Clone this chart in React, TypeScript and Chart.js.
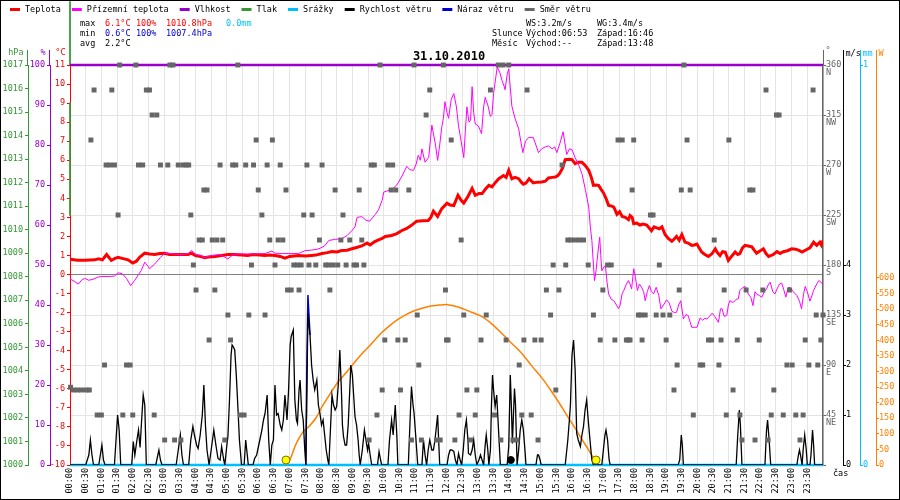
import React, { useEffect, useRef } from 'react';
import { Chart, registerables } from 'chart.js';

Chart.register(...registerables);

const FONT = '"DejaVu Sans Mono", monospace';

// ---- Temperature (°C), minutes since midnight ----
const tempT = [0, 15, 30, 47, 55, 62, 70, 79, 86, 92, 100, 111, 120, 127, 133, 143, 152, 162, 172, 181, 190, 200, 213, 226, 232, 240, 250, 257, 265, 277, 290, 302, 315, 328, 340, 350, 363, 372, 382, 392, 402, 411, 420, 437, 450, 462, 470, 482, 492, 501, 510, 520, 530, 539, 548, 558, 568, 574, 582, 590, 597, 603, 615, 625, 634, 644, 653, 663, 675, 685, 690, 695, 703, 711, 721, 727, 734, 742, 748, 753, 761, 769, 775, 782, 788, 795, 801, 807, 814, 820, 829, 834, 839, 845, 851, 858, 863, 867, 872, 878, 886, 894, 902, 909, 915, 922, 928, 933, 937, 942, 947, 955, 960, 966, 972, 979, 986, 992, 997, 1001, 1006, 1011, 1015, 1020, 1025, 1030, 1035, 1040, 1046, 1051, 1056, 1062, 1068, 1071, 1075, 1078, 1084, 1090, 1096, 1103, 1112, 1117, 1122, 1127, 1132, 1138, 1144, 1151, 1155, 1160, 1165, 1170, 1176, 1182, 1189, 1194, 1199, 1203, 1208, 1214, 1221, 1228, 1234, 1238, 1243, 1248, 1253, 1259, 1265, 1272, 1277, 1281, 1286, 1291, 1297, 1304, 1308, 1313, 1320, 1326, 1331, 1336, 1341, 1345, 1352, 1358, 1364, 1372, 1380, 1388, 1395, 1400, 1408, 1415, 1422, 1428, 1434, 1437, 1440];
const tempV = [0.8, 0.75, 0.75, 0.77, 0.82, 0.77, 1.05, 0.74, 0.85, 0.9, 0.85, 0.77, 0.6, 0.7, 0.9, 1.12, 1.08, 1.05, 1.1, 1.12, 1.05, 1.05, 1.05, 1.05, 1.12, 1.0, 0.95, 0.88, 0.92, 0.95, 1.0, 1.05, 1.05, 1.03, 1.0, 1.05, 1.03, 1.0, 1.03, 1.0, 0.95, 0.86, 0.95, 1.0, 0.97, 1.0, 1.02, 1.1, 1.15, 1.21, 1.18, 1.26, 1.28, 1.35, 1.42, 1.5, 1.65, 1.55, 1.72, 1.82, 1.9, 2.0, 2.05, 2.15, 2.3, 2.42, 2.58, 2.8, 2.82, 2.84, 3.0, 3.33, 3.05, 3.46, 3.75, 3.65, 3.62, 4.16, 3.9, 3.75, 4.1, 4.52, 4.16, 4.25, 4.25, 4.5, 4.68, 4.6, 4.85, 5.03, 5.2, 5.1, 5.47, 5.03, 5.1, 5.03, 4.85, 4.74, 4.8, 5.03, 4.81, 4.85, 4.86, 4.9, 5.07, 5.1, 5.12, 5.2, 5.33, 5.6, 6.03, 6.05, 6.03, 5.82, 5.9, 5.9, 5.7, 5.47, 5.1, 4.68, 4.7, 4.68, 4.5, 4.3, 4.0, 3.63, 3.6, 3.54, 3.16, 3.3, 3.05, 3.0, 2.88, 3.1, 3.0, 2.67, 2.7, 2.6, 2.65, 2.6, 2.3, 2.5, 2.45, 2.4, 2.5, 2.1, 1.9, 1.75, 1.85, 2.0, 1.8, 2.1, 1.7, 1.65, 1.53, 1.55, 1.6, 1.4, 1.18, 1.05, 0.95, 1.1, 1.35, 1.15, 1.0, 1.2, 1.18, 0.74, 0.95, 1.18, 1.05, 1.1, 1.4, 1.53, 1.5, 1.45, 1.3, 1.12, 1.25, 1.35, 1.1, 0.95, 1.0, 1.05, 1.2, 1.1, 1.2, 1.25, 1.35, 1.33, 1.25, 1.18, 1.3, 1.4, 1.7, 1.53, 1.7, 1.55, 1.79];

// ---- Ground temperature (°C) ----
const groundT = [0, 8, 16, 22, 28, 36, 44, 52, 60, 75, 85, 92, 100, 108, 116, 124, 131, 136, 143, 150, 152, 162, 173, 181, 195, 210, 226, 232, 241, 250, 257, 270, 287, 302, 310, 320, 340, 354, 367, 373, 386, 392, 405, 437, 450, 462, 476, 487, 495, 508, 520, 530, 539, 545, 549, 558, 566, 573, 584, 590, 597, 600, 608, 615, 625, 634, 644, 650, 657, 662, 666, 670, 673, 679, 686, 692, 699, 703, 707, 711, 714, 717, 721, 724, 729, 734, 739, 743, 748, 753, 756, 759, 763, 766, 769, 772, 775, 781, 787, 791, 794, 799, 804, 807, 810, 814, 817, 822, 826, 830, 832, 836, 839, 842, 845, 851, 858, 862, 866, 871, 877, 882, 886, 891, 896, 902, 909, 915, 922, 927, 931, 937, 943, 947, 950, 955, 960, 966, 972, 979, 986, 992, 995, 998, 1001, 1003, 1006, 1008, 1011, 1013, 1015, 1017, 1021, 1024, 1027, 1030, 1035, 1040, 1045, 1049, 1052, 1056, 1059, 1064, 1068, 1071, 1074, 1078, 1081, 1085, 1089, 1093, 1097, 1100, 1104, 1108, 1112, 1116, 1121, 1126, 1130, 1135, 1141, 1146, 1151, 1156, 1160, 1164, 1168, 1173, 1178, 1182, 1186, 1189, 1194, 1199, 1205, 1210, 1214, 1218, 1223, 1228, 1233, 1240, 1244, 1247, 1251, 1256, 1259, 1262, 1266, 1269, 1274, 1278, 1281, 1286, 1291, 1294, 1297, 1302, 1306, 1310, 1313, 1318, 1323, 1328, 1332, 1336, 1339, 1344, 1348, 1353, 1357, 1361, 1365, 1369, 1373, 1377, 1383, 1390, 1395, 1399, 1403, 1406, 1410, 1415, 1419, 1422, 1427, 1432, 1436, 1440];
const groundV = [-0.23, -0.35, -0.5, -0.3, -0.2, -0.3, -0.25, -0.15, -0.1, -0.1, -0.08, 0.09, 0.04, -0.2, -0.58, -0.3, 0.0, 0.2, 0.65, 0.4, 0.3, 0.55, 0.9, 1.12, 1.1, 1.05, 1.1, 1.26, 1.05, 1.0, 0.88, 1.0, 1.05, 0.82, 1.0, 1.08, 1.08, 1.08, 1.1, 1.1, 1.23, 1.12, 1.1, 1.1, 1.26, 1.28, 1.35, 1.5, 1.79, 1.85, 1.88, 2.05, 2.3, 2.5, 3.0, 3.04, 2.85, 2.8, 3.16, 3.4, 3.9, 4.33, 4.4, 4.46, 4.7, 5.12, 5.68, 5.5, 5.47, 5.8, 6.26, 6.0, 6.6, 5.9, 6.15, 7.84, 6.8, 5.99, 6.8, 7.75, 8.2, 9.07, 8.5, 8.2, 9.2, 9.5, 8.8, 7.8, 7.0, 6.14, 7.5, 8.8, 8.0, 8.1, 9.86, 8.5, 7.9, 7.8, 7.4, 8.8, 9.3, 8.9, 8.3, 8.4, 9.5, 10.3, 10.9, 10.6, 10.2, 9.9, 9.7, 10.5, 10.8, 9.8, 8.84, 8.2, 7.65, 7.0, 6.4, 7.0, 7.19, 7.2, 7.19, 6.8, 6.4, 6.6, 6.7, 6.75, 6.6, 6.7, 6.4, 6.9, 7.49, 6.8, 6.3, 6.6, 6.55, 6.14, 5.8, 5.3, 4.4, 3.54, 2.5, 1.79, 0.5, -0.32, 0.2, 0.74, 1.5, 1.96, 1.0, 0.2, 0.4, 0.42, -0.4, -1.02, -1.3, -1.37, -1.6, -1.8, -1.6, -1.0, -0.84, -0.5, -0.32, -0.5, -0.75, 0.3, -0.1, -0.84, -0.5, -0.67, -0.9, -1.37, -0.9, -0.58, -0.9, -1.02, -0.67, -1.1, -1.8, -1.6, -1.33, -1.5, -1.93, -2.0, -1.98, -1.6, -1.37, -2.33, -2.1, -2.15, -2.5, -2.77, -2.77, -2.77, -2.28, -2.4, -2.3, -2.33, -2.2, -2.03, -2.2, -2.51, -1.8, -1.8, -2.2, -2.15, -1.6, -1.37, -1.45, -1.45, -1.3, -1.28, -0.84, -0.7, -0.63, -0.75, -1.02, -1.2, -1.63, -0.9, -1.02, -1.1, -1.19, -0.9, -0.75, -0.5, -0.4, -0.9, -1.02, -0.7, -0.5, -0.45, -0.8, -1.19, -0.7, -0.67, -0.9, -1.1, -1.4, -1.8, -1.0, -0.63, -0.9, -1.4, -1.1, -0.84, -0.55, -0.32, -0.4, -0.53];

// ---- Humidity (%) ----
const humT = [0, 1440];
const humV = [100, 100];

// ---- Pressure (hPa) as drawn at the left edge ----
const pressT = [0, 0, 0, 0, 0];
const pressV = [1019.7, 1017.0, null, 1015.4, 1010.6];

// ---- Precipitation (mm) ----
const rainT = [0, 1440];
const rainV = [0, 0];

// ---- Wind speed (m/s) ----
const windT = [0, 30, 36, 39, 42, 45, 55, 58, 61, 64, 67, 85, 88, 91, 94, 97, 118, 121, 124, 128, 131, 134, 137, 140, 143, 146, 164, 168, 170, 173, 176, 203, 207, 211, 214, 217, 227, 231, 235, 238, 242, 245, 249, 253, 256, 259, 262, 266, 270, 275, 279, 283, 287, 290, 294, 296, 300, 302, 305, 308, 310, 313, 315, 318, 321, 324, 328, 333, 336, 339, 341, 350, 353, 357, 363, 367, 370, 373, 377, 380, 383, 386, 389, 392, 395, 398, 402, 405, 408, 411, 415, 418, 421, 423, 427, 430, 433, 435, 438, 440, 443, 446, 449, 451, 453, 455, 457, 459, 462, 465, 468, 472, 475, 478, 481, 484, 487, 490, 493, 495, 498, 501, 504, 507, 510, 513, 516, 519, 521, 523, 526, 529, 532, 535, 537, 540, 543, 545, 548, 551, 553, 555, 559, 563, 566, 569, 571, 574, 577, 588, 591, 594, 596, 608, 611, 615, 618, 622, 625, 627, 647, 650, 653, 656, 658, 661, 665, 673, 676, 679, 682, 685, 688, 692, 695, 698, 701, 703, 705, 707, 721, 724, 727, 730, 734, 737, 740, 743, 746, 749, 752, 755, 758, 761, 762, 766, 769, 772, 775, 778, 782, 785, 788, 791, 794, 796, 799, 801, 804, 806, 808, 810, 813, 816, 819, 823, 836, 839, 842, 844, 846, 848, 850, 852, 855, 858, 861, 864, 867, 870, 872, 891, 894, 896, 899, 901, 947, 952, 955, 957, 960, 963, 966, 969, 972, 976, 979, 982, 985, 988, 991, 995, 998, 1001, 1017, 1020, 1023, 1025, 1028, 1031, 1033, 1163, 1166, 1169, 1171, 1173, 1274, 1277, 1280, 1282, 1285, 1329, 1332, 1334, 1337, 1340, 1390, 1393, 1395, 1397, 1400, 1402, 1405, 1408, 1410, 1415, 1417, 1420, 1422, 1424, 1440];
const windV = [0, 0, 0.2, 0.5, 0.2, 0, 0, 0.2, 0.4, 0.1, 0, 0, 0.5, 1.0, 0.7, 0, 0, 0.47, 0.2, 0.5, 0.7, 0.35, 0.9, 1.4, 1.2, 0, 0, 0.2, 0.3, 0.1, 0, 0, 0.3, 0.6, 0.2, 0, 0, 0.5, 0.77, 0.6, 0.4, 0.33, 0.6, 1.0, 1.6, 0.8, 0.3, 0, 0.3, 0.7, 0.4, 0.13, 0.1, 0.37, 0.1, 0, 0.4, 0.57, 1.3, 2.2, 2.4, 2.35, 2.3, 1.8, 1.17, 0.5, 0, 0, 0.5, 0.2, 0, 0, 0.13, 0.2, 0.5, 0.7, 0.9, 1.03, 1.4, 0.5, 0, 0.4, 0.5, 1.6, 1.0, 1.03, 0.8, 0.7, 0.9, 1.4, 0.9, 1.5, 2.4, 2.57, 2.7, 1.3, 0.9, 0.83, 1.5, 1.7, 1.1, 0.9, 0.3, 0, 1.5, 3.03, 2.8, 2.6, 2.0, 1.7, 1.5, 1.7, 1.2, 1.03, 0.8, 0.9, 0.6, 0.3, 0.1, 0, 0.7, 1.4, 1.2, 1.1, 1.17, 1.6, 2.3, 1.5, 0.8, 0.57, 0.4, 0.4, 0.8, 1.5, 2.0, 1.8, 1.3, 0.97, 0.8, 0.5, 0.2, 0, 0.3, 0.7, 0.5, 0.3, 0.43, 0.2, 0, 0, 0.27, 0.1, 0, 0, 0.5, 0.9, 0.6, 1.2, 0.6, 0, 0, 0.8, 1.57, 1.2, 1.03, 0.6, 0, 0, 0.5, 0.2, 0, 0.3, 0.5, 0.3, 0.3, 0.5, 0.8, 1.0, 0.5, 0, 0, 0.2, 0.3, 0.3, 0.27, 0.1, 0, 0.23, 0.1, 0, 0.3, 0.7, 0.9, 0.5, 0.23, 0.2, 0.3, 0.5, 0.2, 0, 0.1, 0.2, 0.1, 0, 0.4, 0.6, 0.3, 0, 0.3, 1.2, 1.8, 1.5, 1.17, 1.4, 0.8, 0, 0, 0.37, 1.8, 1.2, 0.43, 1.0, 1.53, 1.2, 0, 0.3, 0.7, 0.9, 0.7, 0.3, 0, 0, 0.2, 0.2, 0.1, 0, 0, 0.5, 0.9, 1.2, 2.2, 2.5, 1.9, 0.63, 0.5, 0.37, 0.6, 0.77, 1.1, 1.3, 0.9, 0.43, 0.1, 0, 0, 0.3, 0.6, 0.7, 0.5, 0.1, 0, 0, 0.1, 0.6, 0.4, 0, 0, 0.6, 1.1, 0.8, 0, 0, 0.7, 0.9, 0.5, 0, 0, 0.2, 0.3, 0.2, 0, 0.3, 0.6, 0.3, 0, 0, 0.2, 0.7, 0.4, 0, 0];

// ---- Wind gust (m/s), visible part ----
const gustT = [451, 453, 455, 457, 459];
const gustV = [0, 2.0, 3.4, 3.0, 2.6];

// ---- Wind direction (degrees) ----
const dirT = [1, 6, 14, 22, 31, 37, 40, 46, 52, 60, 66, 69, 76, 80, 85, 92, 95, 101, 108, 115, 120, 126, 131, 139, 146, 152, 157, 161, 166, 173, 181, 187, 191, 197, 200, 207, 212, 216, 222, 227, 231, 236, 241, 247, 253, 256, 262, 266, 272, 277, 281, 287, 292, 296, 302, 307, 311, 317, 321, 326, 333, 336, 342, 347, 351, 356, 360, 367, 373, 377, 382, 387, 392, 398, 402, 407, 413, 416, 423, 428, 435, 438, 442, 447, 453, 457, 463, 470, 477, 482, 489, 495, 497, 503, 507, 512, 518, 522, 528, 535, 543, 548, 553, 558, 562, 572, 576, 582, 587, 593, 597, 602, 608, 614, 617, 623, 627, 632, 641, 648, 653, 658, 664, 667, 672, 681, 688, 701, 708, 714, 718, 720, 723, 729, 736, 744, 748, 753, 759, 766, 775, 778, 786, 796, 804, 812, 819, 824, 828, 834, 839, 847, 855, 859, 864, 868, 874, 882, 889, 895, 901, 911, 919, 924, 929, 935, 941, 948, 952, 958, 966, 974, 982, 991, 1001, 1014, 1019, 1028, 1035, 1042, 1048, 1056, 1064, 1068, 1071, 1075, 1078, 1087, 1092, 1094, 1100, 1110, 1115, 1121, 1127, 1134, 1140, 1147, 1155, 1161, 1165, 1169, 1174, 1180, 1186, 1192, 1205, 1210, 1221, 1227, 1232, 1241, 1245, 1251, 1255, 1260, 1268, 1276, 1281, 1285, 1293, 1300, 1306, 1310, 1318, 1325, 1331, 1335, 1341, 1346, 1351, 1356, 1364, 1371, 1376, 1381, 1388, 1396, 1402, 1406, 1413, 1421, 1427, 1430, 1436, 1440];
const dirV = [70, 67.5, 67.5, 67.5, 67.5, 67.5, 292.5, 337.5, 45, 45, 90, 270, 270, 337.5, 270, 225, 360, 45, 90, 90, 45, 360, 270, 270, 337.5, 337.5, 315, 45, 315, 270, 22.5, 270, 360, 360, 22.5, 270, 22.5, 270, 270, 270, 225, 180, 157.5, 202.5, 202.5, 247.5, 247.5, 112.5, 202.5, 157.5, 202.5, 270, 202.5, 22.5, 135, 112.5, 270, 270, 360, 45, 45, 270, 135, 180, 270, 292.5, 247.5, 225, 135, 270, 202.5, 292.5, 180, 202.5, 270, 202.5, 247.5, 157.5, 157.5, 180, 180, 157.5, 180, 225, 270, 180, 225, 180, 202.5, 270, 180, 180, 157.5, 180, 247.5, 180, 202.5, 225, 180, 202.5, 180, 180, 247.5, 202.5, 180, 22.5, 270, 270, 45, 360, 67.5, 112.5, 270, 247.5, 270, 247.5, 112.5, 67.5, 112.5, 247.5, 22.5, 360, 135, 90, 22.5, 315, 337.5, 22.5, 22.5, 360, 157.5, 112.5, 112.5, 292.5, 22.5, 45, 202.5, 135, 67.5, 22.5, 45, 67.5, 112.5, 135, 337.5, 45, 360, 22.5, 360, 112.5, 360, 22.5, 22.5, 90, 45, 112.5, 337.5, 45, 112.5, 22.5, 112.5, 157.5, 135, 180, 67.5, 157.5, 270, 180, 202.5, 202.5, 202.5, 202.5, 202.5, 180, 135, 112.5, 157.5, 180, 180, 112.5, 292.5, 292.5, 112.5, 112.5, 112.5, 247.5, 292.5, 135, 135, 112.5, 135, 225, 225, 135, 180, 135, 112.5, 135, 67.5, 90, 157.5, 247.5, 360, 292.5, 247.5, 45, 90, 90, 112.5, 112.5, 202.5, 90, 112.5, 157.5, 45, 292.5, 67.5, 112.5, 45, 22.5, 157.5, 247.5, 247.5, 22.5, 112.5, 157.5, 337.5, 22.5, 45, 67.5, 315, 315, 45, 90, 157.5, 90, 45, 22.5, 45, 112.5, 90, 337.5, 135, 90, 112.5, 135];

// ---- Solar radiation (W) ----
const solarT = [413, 420, 433, 446, 455, 470, 482, 498, 513, 530, 545, 560, 577, 592, 609, 625, 641, 657, 673, 690, 705, 720, 735, 749, 768, 788, 807, 826, 845, 864, 883, 903, 918, 934, 950, 966, 979, 992, 1000, 1008];
const solarV = [0, 15, 70, 107, 120, 150, 187, 230, 267, 300, 331, 360, 390, 418, 444, 465, 481, 494, 503, 510, 513, 515, 510, 503, 490, 476, 452, 422, 390, 358, 318, 278, 243, 203, 160, 118, 82, 48, 25, 0];

// ---- Sunrise / sunset and moonset markers ----
const sunT = [413, 1006];
const sunV = [16, 16];
const moonT = [843];
const moonV = [16];

// ---- Texts ----
const titleText = '31.10.2010';
const legendLabels = ['Teplota', 'Přízemní teplota', 'Vlhkost', 'Tlak', 'Srážky', 'Rychlost větru', 'Náraz větru', 'Směr větru'];
const compass: Record<number, string> = { 45: 'NE', 90: 'E', 135: 'SE', 180: 'S', 225: 'SW', 270: 'W', 315: 'NW', 360: 'N' };

const COL = {
  red: '#ff0000',
  mag: '#ff00ff',
  purple: '#9900cc',
  green: '#339933',
  cyan: '#00bfff',
  black: '#000000',
  blue: '#0000cc',
  grey: '#666666',
  orange: '#ff8000',
  grid: '#e4e4e4',
};
const legendColors = [COL.red, COL.mag, COL.purple, COL.green, COL.cyan, COL.black, COL.blue, COL.grey];

const xy = (t: number[], v: (number | null)[]) => t.map((x, i) => ({ x, y: v[i] }));
const hhmm = (v: number) => `${String(Math.floor(v / 60)).padStart(2, '0')}:${String(v % 60).padStart(2, '0')}`;
const font = { family: FONT, size: 8.5 };

const headerPlugin = {
  id: 'header',
  beforeDraw(chart: any) {
    const ctx = chart.ctx;
    ctx.save();
    ctx.fillStyle = '#ffffff';
    ctx.fillRect(0, 0, chart.width, chart.height);
    ctx.restore();
  },
  afterDraw(chart: any) {
    const ctx = chart.ctx;
    const s = chart.scales;
    const top = chart.chartArea.top;
    ctx.save();
    // frame
    ctx.strokeStyle = '#000';
    ctx.lineWidth = 1;
    ctx.strokeRect(0.5, 0.5, chart.width - 1, chart.height - 1);

    // legend
    ctx.font = `8.5px ${FONT}`;
    ctx.textBaseline = 'middle';
    ctx.textAlign = 'left';
    let x = 10;
    legendLabels.forEach((label, i) => {
      ctx.strokeStyle = legendColors[i];
      ctx.lineWidth = 3;
      ctx.beginPath();
      ctx.moveTo(x, 9.5);
      ctx.lineTo(x + 10, 9.5);
      ctx.stroke();
      ctx.fillStyle = '#000';
      ctx.fillText(label, x + 15, 9.5);
      x += 15 + ctx.measureText(label).width + 11;
    });

    // info texts
    const put = (t: string, px: number, py: number, c: string) => {
      ctx.fillStyle = c;
      ctx.fillText(t, px, py);
    };
    put('max', 80, 24, '#000');
    put('6.1°C', 105, 24, COL.red);
    put('100%', 136, 24, COL.red);
    put('1010.8hPa', 166, 24, COL.red);
    put('0.0mm', 226, 24, COL.cyan);
    put('min', 80, 34, '#000');
    put('0.6°C', 105, 34, COL.blue);
    put('100%', 136, 34, COL.blue);
    put('1007.4hPa', 166, 34, COL.blue);
    put('avg', 80, 44, '#000');
    put('2.2°C', 105, 44, '#000');
    put('WS:3.2m/s', 526, 24, '#000');
    put('WG:3.4m/s', 597, 24, '#000');
    put('Slunce', 492, 34, '#000');
    put('Východ:06:53', 526, 34, '#000');
    put('Západ:16:46', 597, 34, '#000');
    put('Měsíc', 492, 44, '#000');
    put('Východ:--', 526, 44, '#000');
    put('Západ:13:48', 597, 44, '#000');
    put('čas', 833, 474, '#000');

    // axis line extensions + units
    const lefts: [any, string, string][] = [[s.yP, COL.green, 'hPa'], [s.yH, COL.purple, '%'], [s.yT, COL.red, '°C']];
    lefts.forEach(([sc, c, u]) => {
      const lx = Math.round(sc.right) - 0.5;
      ctx.strokeStyle = c;
      ctx.lineWidth = 1;
      if (sc !== s.yT) {
        ctx.beginPath();
        ctx.moveTo(lx, 50);
        ctx.lineTo(lx, top);
        ctx.stroke();
      }
      ctx.textAlign = 'right';
      put(u, lx - 4, 53, c);
    });
    const rights: [any, string, string][] = [[s.yD, COL.grey, '°'], [s.yW, COL.black, 'm/s'], [s.yR, COL.cyan, 'mm'], [s.yS, COL.orange, 'W']];
    rights.forEach(([sc, c, u]) => {
      const rx = Math.round(sc.left) + 0.5;
      ctx.strokeStyle = c;
      ctx.lineWidth = 1;
      ctx.beginPath();
      ctx.moveTo(rx, 50);
      ctx.lineTo(rx, top);
      ctx.stroke();
      ctx.textAlign = 'left';
      put(u, rx + 2, sc === s.yD ? 51 : 54, c);
    });

    // title
    ctx.textAlign = 'center';
    ctx.font = `bold 12px ${FONT}`;
    put(titleText, 449, 57, '#000');
    ctx.restore();
  },
};

function buildConfig(): any {
  const leftAxis = (color: string, min: number, max: number, step: number, weight: number, width: number) => ({
    type: 'linear',
    position: 'left',
    min,
    max,
    weight,
    ticks: { stepSize: step, color, font, padding: 2, autoSkip: false, callback: (v: number) => String(v) },
    grid: { drawOnChartArea: false, color, tickColor: color, tickLength: 3 },
    border: { color, width: 1 },
    afterFit: (sc: any) => { sc.width = width; },
  });
  const yT = leftAxis(COL.red, -10, 11, 1, 0, 20) as any;
  yT.grid = {
    drawOnChartArea: true,
    color: (c: any) => (c.tick && c.tick.value === 0 ? '#808080' : 'rgba(0,0,0,0)'),
    tickColor: COL.red,
    tickLength: 3,
  };
  return {
    type: 'scatter',
    data: {
      datasets: [
        { label: 'Sun', data: xy(sunT, sunV), yAxisID: 'yS', order: 0, showLine: false, pointRadius: 4, pointBackgroundColor: '#ffff00', pointBorderColor: '#807000', pointBorderWidth: 1, clip: false },
        { label: 'Moon', data: xy(moonT, moonV), yAxisID: 'yS', order: 0, showLine: false, pointRadius: 3.5, pointBackgroundColor: '#000', pointBorderColor: '#000', pointBorderWidth: 1, clip: false },
        { label: 'Směr větru', data: xy(dirT, dirV), yAxisID: 'yD', order: 1, showLine: false, pointStyle: 'rect', pointRadius: 3.5, pointBackgroundColor: COL.grey, pointBorderWidth: 0, clip: false },
        { label: 'Rychlost větru', data: xy(windT, windV), yAxisID: 'yW', order: 2, showLine: true, borderColor: COL.black, borderWidth: 1.3, pointRadius: 0, tension: 0 },
        { label: 'Náraz větru', data: xy(gustT, gustV), yAxisID: 'yW', order: 3, showLine: true, borderColor: COL.blue, borderWidth: 1.5, pointRadius: 0, tension: 0 },
        { label: 'Přízemní teplota', data: xy(groundT, groundV), yAxisID: 'yT', order: 4, showLine: true, borderColor: COL.mag, borderWidth: 1, pointRadius: 0, tension: 0 },
        { label: 'Teplota', data: xy(tempT, tempV), yAxisID: 'yT', order: 5, showLine: true, borderColor: COL.red, borderWidth: 3, pointRadius: 0, tension: 0 },
        { label: 'Solar', data: xy(solarT, solarV), yAxisID: 'yS', order: 6, showLine: true, borderColor: COL.orange, borderWidth: 1.5, pointRadius: 0, tension: 0.3 },
        { label: 'Srážky', data: xy(rainT, rainV), yAxisID: 'yR', order: 7, showLine: true, borderColor: COL.cyan, borderWidth: 2.5, pointRadius: 0, clip: false },
        { label: 'Vlhkost', data: xy(humT, humV), yAxisID: 'yH', order: 8, showLine: true, borderColor: COL.purple, borderWidth: 2.5, pointRadius: 0, clip: false },
        { label: 'Tlak', data: xy(pressT, pressV), yAxisID: 'yP', order: 9, showLine: true, spanGaps: false, borderColor: COL.green, borderWidth: 1, pointRadius: 0, clip: false },
      ],
    },
    options: {
      responsive: false,
      animation: false,
      devicePixelRatio: 1,
      layout: { padding: { top: 65, left: 0, right: 0, bottom: 0 } },
      plugins: { legend: { display: false }, tooltip: { enabled: false } },
      events: [],
      scales: {
        x: {
          type: 'linear',
          min: 0,
          max: 1440,
          ticks: {
            stepSize: 30,
            autoSkip: false,
            minRotation: 90,
            maxRotation: 90,
            font,
            color: '#000',
            padding: 3,
            callback: (v: number) => (v >= 1440 ? '' : hhmm(v)),
          },
          grid: { color: COL.grid, drawTicks: false },
          border: { display: false },
          afterFit: (sc: any) => { sc.height = 35; },
        },
        yP: leftAxis(COL.green, 1000, 1017, 1, 2, 28),
        yH: leftAxis(COL.purple, 0, 100, 10, 1, 22),
        yT,
        yD: {
          type: 'linear',
          position: 'right',
          min: 0,
          max: 360,
          weight: 0,
          ticks: {
            stepSize: 45,
            color: COL.grey,
            font: { family: FONT, size: 8.5, lineHeight: 1 },
            padding: 0,
            labelOffset: 4,
            autoSkip: false,
            callback: (v: number) => (v === 0 ? '' : [String(v), compass[v]]),
          },
          grid: { color: COL.grid, tickColor: COL.grey, tickLength: 3 },
          border: { color: COL.grey, width: 1.5 },
          afterFit: (sc: any) => { sc.width = 20; },
        },
        yW: {
          type: 'linear',
          position: 'right',
          min: 0,
          max: 8,
          weight: 1,
          ticks: { stepSize: 1, color: COL.black, font, padding: 0, autoSkip: false, callback: (v: number) => (v <= 4 ? String(v) : '') },
          grid: { drawOnChartArea: false, tickLength: 3, tickColor: (c: any) => (c.tick && c.tick.value <= 4 ? COL.black : 'rgba(0,0,0,0)') },
          border: { color: COL.black },
          afterFit: (sc: any) => { sc.width = 17; },
        },
        yR: {
          type: 'linear',
          position: 'right',
          min: 0,
          max: 1,
          weight: 2,
          ticks: { stepSize: 1, color: COL.cyan, font, padding: 0, autoSkip: false, callback: (v: number) => String(v) },
          grid: { drawOnChartArea: false, tickLength: 3, tickColor: COL.cyan },
          border: { color: COL.cyan },
          afterFit: (sc: any) => { sc.width = 16; },
        },
        yS: {
          type: 'linear',
          position: 'right',
          min: 0,
          max: 1283.4,
          weight: 3,
          ticks: { stepSize: 50, color: COL.orange, font, padding: 0, autoSkip: false, callback: (v: number) => (v <= 600 ? String(v) : '') },
          grid: { drawOnChartArea: false, tickLength: 3, tickColor: (c: any) => (c.tick && c.tick.value <= 600 ? COL.orange : 'rgba(0,0,0,0)') },
          border: { color: COL.orange },
          afterFit: (sc: any) => { sc.width = 24; },
        },
      },
    },
    plugins: [headerPlugin],
  };
}

export default function App() {
  const ref = useRef<HTMLCanvasElement>(null);
  useEffect(() => {
    if (!ref.current) return;
    const chart = new Chart(ref.current, buildConfig());
    return () => chart.destroy();
  }, []);
  return (
    <div style={{ position: 'absolute', left: 0, top: 0, width: 900, height: 500, background: '#fff' }}>
      <canvas ref={ref} width={900} height={500} style={{ display: 'block', width: 900, height: 500 }} />
    </div>
  );
}
